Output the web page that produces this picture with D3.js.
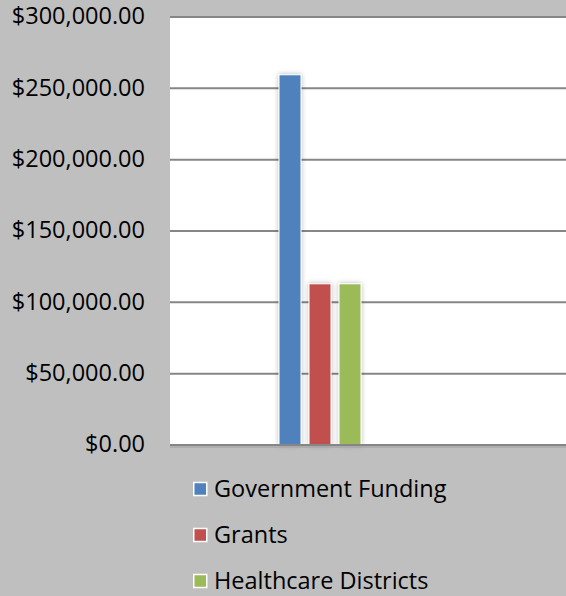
<!DOCTYPE html>
<html><head><meta charset="utf-8">
<script src="https://cdn.jsdelivr.net/npm/d3@7"></script>
<style>
html,body{margin:0;padding:0;background:#bfbfbf;}
svg{display:block;}
text{font-family:"Open Sans",sans-serif;fill:#000;}
</style></head>
<body><svg id="c" width="566" height="596"></svg>
<script>
const categories = ["Funding"];
const seriesNames = ["Government Funding", "Grants", "Healthcare Districts"];
const seriesValues = [259500, 113000, 113000];
const seriesColors = ["#4f81bd", "#c0504d", "#9bbb59"];
const yTicks = [0, 50000, 100000, 150000, 200000, 250000, 300000];

const W = 566, H = 596;
const plot = {left: 170, right: 566, top: 17, bottom: 445};
const FONT = "\"Open Sans\",sans-serif";
const FS = 23.5;
const svg = d3.select("#c");

const defs = svg.append("defs");
const f = defs.append("filter").attr("id","sh").attr("x","-50%").attr("y","-10%").attr("width","200%").attr("height","120%");
f.append("feDropShadow").attr("dx",0).attr("dy",0).attr("stdDeviation",2.5).attr("flood-color","#000").attr("flood-opacity",0.28);

svg.append("rect").attr("width",W).attr("height",H).attr("fill","#bfbfbf");
svg.append("rect").attr("x",plot.left).attr("y",plot.top).attr("width",plot.right-plot.left).attr("height",plot.bottom-plot.top).attr("fill","#fff");

const y = d3.scaleLinear().domain([0, 300000]).range([plot.bottom, plot.top]);
const x0 = d3.scaleBand().domain(categories).range([plot.left, 470]).paddingInner(0).paddingOuter(1.1667);
const x1 = d3.scaleBand().domain(seriesNames).range([0, x0.bandwidth()]).paddingInner(0.2667).paddingOuter(0.1333);

// gridlines
svg.append("g").selectAll("line").data(yTicks.filter(d=>d>0)).join("line")
  .attr("x1",plot.left).attr("x2",plot.right)
  .attr("y1",d=>y(d)).attr("y2",d=>y(d))
  .attr("stroke","#868686").attr("stroke-width",2);

// y axis labels
const fmt = d => "$" + d3.format(",.2f")(d);
const yAxis = d3.axisLeft(y).tickValues(yTicks).tickFormat(fmt).tickSize(0).tickPadding(0);
const ga = svg.append("g").attr("transform",`translate(145,-1.5)`).call(yAxis);
ga.select(".domain").remove();
ga.selectAll("text").attr("font-size",FS).attr("font-family",FONT).attr("fill","#000").attr("dy","0.35em");

// bars
const g = svg.append("g").attr("transform",`translate(${x0(categories[0])},0)`);
g.selectAll("rect").data(seriesNames.map((n,i)=>({n, v: seriesValues[i], c: seriesColors[i]}))).join("rect")
  .attr("x",d=>x1(d.n)).attr("width",x1.bandwidth())
  .attr("y",d=>y(d.v)).attr("height",d=>y(0)-y(d.v))
  .attr("fill",d=>d.c).attr("stroke","#fff").attr("stroke-width",1)
  .attr("filter","url(#sh)");

// x axis line
svg.append("line").attr("x1",plot.left).attr("x2",plot.right).attr("y1",plot.bottom).attr("y2",plot.bottom)
  .attr("stroke","#868686").attr("stroke-width",2);
svg.append("line").attr("x1",plot.left).attr("x2",plot.right).attr("y1",plot.bottom+2).attr("y2",plot.bottom+2)
  .attr("stroke","#a8a8a8").attr("stroke-width",1.5);

// legend
const lg = svg.append("g").attr("transform","translate(193,489)");
const items = lg.selectAll("g").data(seriesNames).join("g").attr("transform",(d,i)=>`translate(0,${i*46})`);
items.append("rect").attr("x",0.75).attr("y",-6.5).attr("width",13).attr("height",13)
  .attr("fill",(d,i)=>seriesColors[i]).attr("stroke","#fff").attr("stroke-width",1.5);
items.append("text").attr("x",21).attr("y",0).attr("dy","0.35em").attr("font-size",FS).attr("font-family",FONT).text(d=>d);
</script></body></html>
